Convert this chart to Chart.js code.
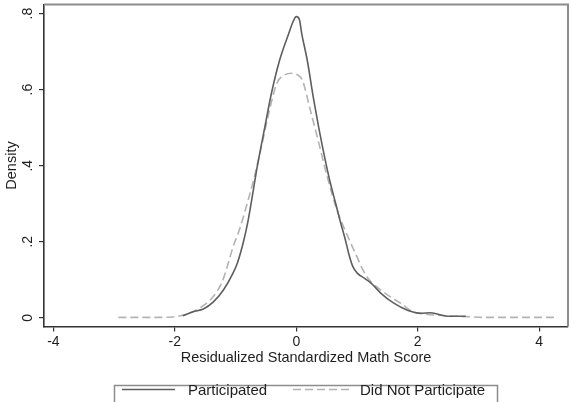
<!DOCTYPE html>
<html>
<head>
<meta charset="utf-8">
<script src="https://cdn.jsdelivr.net/npm/chart.js@4.4.1/dist/chart.umd.min.js"></script>
<style>
html,body{margin:0;padding:0;background:#fff;}
#wrap{width:571px;height:402px;position:relative;overflow:hidden;}
</style>
</head>
<body>
<div id="wrap"><canvas id="c" width="571" height="402"></canvas></div>
<script>
// ticks and labels
const xTicks = [-4, -2, 0, 2, 4];
const yTicks = [0, 0.2, 0.4, 0.6, 0.8];
const seriesNames = ['Participated', 'Did Not Participate'];
const xTitle = 'Residualized Standardized Math Score';
const yTitle = 'Density';

// density curves
const partX = [-1.87,-1.70,-1.53,-1.37,-1.20,-1.04,-0.97,-0.87,-0.80,-0.745,-0.64,-0.52,-0.41,-0.27,-0.13,-0.05,0.0,0.05,0.09,0.18,0.28,0.37,0.47,0.56,0.65,0.73,0.81,0.87,0.93,1.0,1.12,1.24,1.39,1.60,1.83,2.05,2.21,2.49,2.79];
const partY = [0.005,0.016,0.023,0.041,0.073,0.118,0.144,0.20,0.25,0.30,0.40,0.50,0.59,0.68,0.745,0.78,0.792,0.785,0.747,0.678,0.58,0.50,0.42,0.355,0.30,0.25,0.204,0.165,0.135,0.118,0.104,0.09,0.065,0.039,0.02,0.012,0.013,0.004,0.004];

const nonX = [-2.93,-2.6,-2.3,-2.03,-1.86,-1.70,-1.55,-1.37,-1.21,-1.12,-1.04,-0.94,-0.84,-0.69,-0.56,-0.45,-0.32,-0.20,-0.07,0.03,0.10,0.23,0.37,0.51,0.67,0.86,1.0,1.1,1.2,1.35,1.55,1.75,1.9,2.1,2.5,2.8,3.1,3.5,4.0,4.31];
const nonY = [0.001,0.001,0.001,0.002,0.007,0.016,0.03,0.055,0.099,0.144,0.187,0.23,0.283,0.371,0.46,0.54,0.617,0.638,0.643,0.638,0.625,0.547,0.46,0.371,0.283,0.21,0.16,0.125,0.10,0.078,0.055,0.035,0.017,0.01,0.005,0.003,0.001,0.001,0.001,0.001];

const FONT = 'Liberation Sans, Arial, Helvetica, sans-serif';
const AXIS = '#333333';

function pts(xs, ys){ return xs.map((x,i)=>({x, y:ys[i]})); }

// extra stata-ish bits: frame, rotated y labels, titles, legend box
const decor = {
  id: 'decor',
  afterDraw(chart){
    const {ctx, chartArea:a, scales:{x, y}} = chart;
    ctx.save();
    // top/right frame
    ctx.strokeStyle = '#8c8c8c';
    ctx.lineWidth = 2;
    ctx.beginPath();
    ctx.moveTo(a.left, a.top);
    ctx.lineTo(a.right, a.top);
    ctx.lineTo(a.right, a.bottom);
    ctx.stroke();

    ctx.fillStyle = '#1e1e1e';
    ctx.textAlign = 'center';
    ctx.textBaseline = 'middle';
    ctx.font = '14px ' + FONT;
    yTicks.forEach(v=>{
      const py = y.getPixelForValue(v);
      ctx.save();
      ctx.translate(28, py);
      ctx.rotate(-Math.PI/2);
      ctx.fillText(v === 0 ? '0' : String(v).replace(/^0/, ''), 0, 0);
      ctx.restore();
    });

    ctx.font = '14.5px ' + FONT;
    ctx.save();
    ctx.translate(12, (a.top + a.bottom)/2);
    ctx.rotate(-Math.PI/2);
    ctx.fillText(yTitle, 0, 0);
    ctx.restore();

    ctx.fillText(xTitle, (a.left + a.right)/2, 358);

    // legend
    ctx.strokeStyle = '#8c8c8c';
    ctx.lineWidth = 1.5;
    ctx.strokeRect(114.5, 385.5, 383, 30);
    const ds = chart.data.datasets;
    const items = [{x0:122, x1:175, tx:188}, {x0:293, x1:350, tx:360}];
    ctx.textAlign = 'left';
    ctx.font = '15px ' + FONT;
    items.forEach((it, i)=>{
      ctx.strokeStyle = ds[i].borderColor;
      ctx.lineWidth = ds[i].borderWidth;
      ctx.setLineDash(ds[i].borderDash || []);
      ctx.beginPath();
      ctx.moveTo(it.x0, 389.5);
      ctx.lineTo(it.x1, 389.5);
      ctx.stroke();
      ctx.setLineDash([]);
      ctx.fillText(ds[i].label, it.tx, 391);
    });
    ctx.restore();
  }
};

new Chart(document.getElementById('c'), {
  type: 'scatter',
  data: {
    datasets: [
      {label: seriesNames[0], data: pts(partX, partY), showLine: true, pointRadius: 0,
       borderColor: '#5e5e5e', borderWidth: 1.6, cubicInterpolationMode: 'monotone'},
      {label: seriesNames[1], data: pts(nonX, nonY), showLine: true, pointRadius: 0,
       borderColor: '#b3b3b3', borderWidth: 1.6, borderDash: [8, 4], cubicInterpolationMode: 'monotone'}
    ]
  },
  options: {
    responsive: false,
    animation: false,
    layout: {padding: {left: 0, right: 3, top: 4.5, bottom: 0}},
    plugins: {legend: {display: false}, tooltip: {enabled: false}},
    scales: {
      x: {
        type: 'linear', min: -4.155, max: 4.475,
        afterBuildTicks: s => { s.ticks = xTicks.map(v=>({value:v})); },
        afterFit: s => { s.height = 75.5; },
        border: {display: true, color: AXIS, width: 1.6},
        grid: {display: true, drawOnChartArea: false, drawTicks: true, tickLength: 5, color: AXIS, lineWidth: 1.2},
        ticks: {color: '#1e1e1e', font: {family: FONT, size: 14}, padding: 2, maxRotation: 0,
                callback: v => String(v)}
      },
      y: {
        type: 'linear', min: -0.023, max: 0.824,
        afterBuildTicks: s => { s.ticks = yTicks.map(v=>({value:v})); },
        afterFit: s => { s.width = 44; },
        border: {display: true, color: AXIS, width: 1.6},
        grid: {display: true, drawOnChartArea: false, drawTicks: true, tickLength: 5, color: AXIS, lineWidth: 1.2},
        ticks: {display: false}
      }
    }
  },
  plugins: [decor]
});
</script>
</body>
</html>
